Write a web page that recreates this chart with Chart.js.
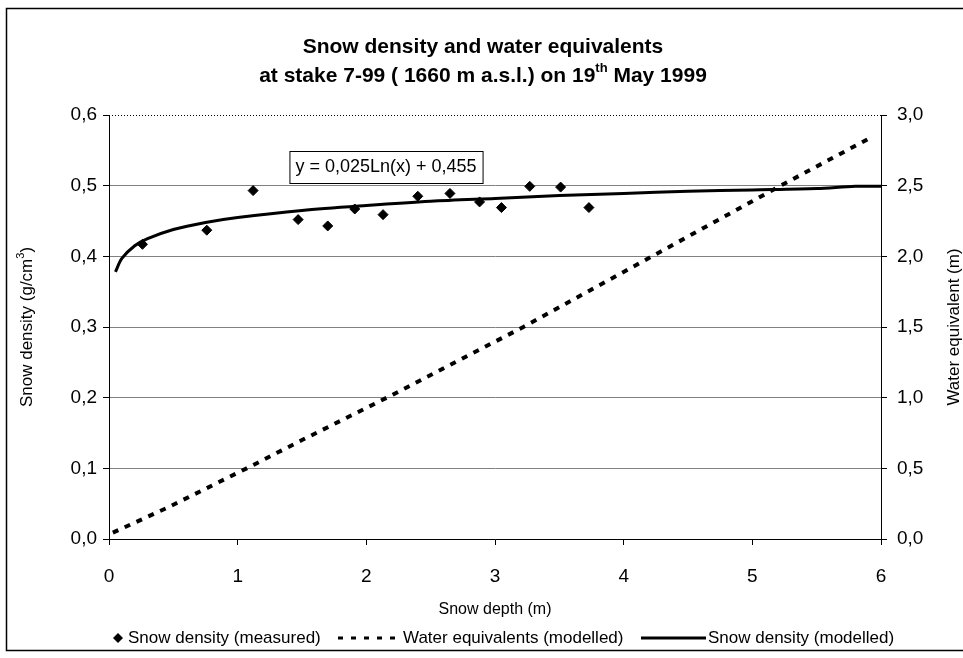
<!DOCTYPE html>
<html>
<head>
<meta charset="utf-8">
<script src="https://cdn.jsdelivr.net/npm/chart.js@4.4.1/dist/chart.umd.min.js"></script>
<style>
  html, body { margin: 0; padding: 0; background: #fff; }
  #wrap { width: 963px; height: 658px; }
</style>
</head>
<body>
<div id="wrap"><canvas id="snowChart" width="963" height="658"></canvas></div>
<script>
// measured snow density (g/cm3) against depth (m)
const depthMeasured = [0.26, 0.76, 1.12, 1.47, 1.70, 1.91, 2.13, 2.40, 2.65, 2.88, 3.05, 3.27, 3.51, 3.73];
const densityMeasured = [0.417, 0.437, 0.493, 0.452, 0.443, 0.467, 0.459, 0.485, 0.489, 0.477, 0.469, 0.499, 0.498, 0.469];
// modelled density curve
const depthModel = [0.05, 0.1, 0.2, 0.3, 0.5, 0.75, 1, 1.5, 2, 2.5, 3, 3.5, 4, 4.5, 5, 5.5, 5.8, 6];
const densityModel = [0.378, 0.397, 0.415, 0.425, 0.438, 0.448, 0.455, 0.465, 0.472, 0.478, 0.482, 0.486, 0.489, 0.492, 0.494, 0.496, 0.499, 0.499];
// modelled water equivalent (m), right axis
const depthWater = [0.03, 0.45, 1.07, 1.5, 2.16, 3.22, 4.22, 5.22, 5.92];
const waterModel = [0.045, 0.22, 0.5, 0.70, 1.0, 1.5, 2.0, 2.5, 2.84];

const titleLine1 = "Snow density and water equivalents";
const titleLine2 = ["at stake 7-99 ( 1660 m a.s.l.) on 19", "th", " May 1999"];
const equationText = "y = 0,025Ln(x) + 0,455";
const xTitle = "Snow depth (m)";
const yTitle = ["Snow density (g/cm", "3", ")"];
const y1Title = "Water equivalent (m)";
const legendLabels = ["Snow density (measured)", "Water equivalents (modelled)", "Snow density (modelled)"];

const FONT = "'Liberation Sans', Arial, sans-serif";
const comma = v => v.toFixed(1).replace('.', ',');

const toPoints = (xs, ys) => xs.map((x, i) => ({ x: x, y: ys[i] }));

// text with a raised small part in the middle, centred on cx
function supText(c, parts, cx, cy, size, sub, bold) {
    const w = bold ? "bold " : "";
    c.font = w + size + "px " + FONT;
    const w1 = c.measureText(parts[0]).width;
    const w3 = c.measureText(parts[2]).width;
    c.font = w + sub + "px " + FONT;
    const w2 = c.measureText(parts[1]).width;
    let x = cx - (w1 + w2 + w3) / 2;
    c.textAlign = 'left';
    c.font = w + size + "px " + FONT;
    c.fillText(parts[0], x, cy);
    c.font = w + sub + "px " + FONT;
    c.fillText(parts[1], x + w1, cy - size * 0.38);
    c.font = w + size + "px " + FONT;
    c.fillText(parts[2], x + w1 + w2, cy);
}

const decor = {
    id: 'decor',
    afterDraw(chart) {
        const c = chart.ctx;
        const a = chart.chartArea;
        c.save();
        // outer frame (right edge runs off the picture)
        c.strokeStyle = '#000';
        c.lineWidth = 1.5;
        c.strokeRect(6.5, 8.5, 970, 642);

        // dotted top edge of plot
        c.lineWidth = 1;
        c.setLineDash([1, 2]);
        c.beginPath();
        c.moveTo(a.left, a.top + 0.5);
        c.lineTo(a.right, a.top + 0.5);
        c.stroke();
        c.setLineDash([]);

        c.fillStyle = '#000';
        c.textBaseline = 'middle';
        // title
        c.font = "bold 21px " + FONT;
        c.textAlign = 'center';
        c.fillText(titleLine1, 483, 47);
        supText(c, titleLine2, 483, 76, 21, 13, true);

        // axis titles
        c.font = "16px " + FONT;
        c.textAlign = 'center';
        c.fillText(xTitle, (a.left + a.right) / 2, 610);
        c.save();
        c.translate(27, (a.top + a.bottom) / 2);
        c.rotate(-Math.PI / 2);
        supText(c, yTitle, 0, 0, 17, 11, false);
        c.restore();
        c.save();
        c.translate(954, (a.top + a.bottom) / 2);
        c.rotate(-Math.PI / 2);
        c.font = "17px " + FONT;
        c.textAlign = 'center';
        c.fillText(y1Title, 0, 0);
        c.restore();

        // equation box
        c.font = "18px " + FONT;
        c.textAlign = 'center';
        const ew = c.measureText(equationText).width;
        const ex = 386, ey = 167;
        c.fillStyle = '#fff';
        c.fillRect(ex - ew / 2 - 6, ey - 16, ew + 12, 32);
        c.strokeStyle = '#000';
        c.lineWidth = 1;
        c.strokeRect(ex - ew / 2 - 6 + 0.5, ey - 16 + 0.5, ew + 12, 32);
        c.fillStyle = '#000';
        c.fillText(equationText, ex, ey);

        // legend
        c.font = "17px " + FONT;
        c.textAlign = 'left';
        const ly = 638;
        c.beginPath();
        c.moveTo(118, ly - 5);
        c.lineTo(123, ly);
        c.lineTo(118, ly + 5);
        c.lineTo(113, ly);
        c.closePath();
        c.fill();
        c.fillText(legendLabels[0], 128, ly);
        c.lineWidth = 3;
        c.setLineDash([5, 8]);
        c.beginPath();
        c.moveTo(338, ly);
        c.lineTo(398, ly);
        c.stroke();
        c.setLineDash([]);
        c.fillText(legendLabels[1], 403, ly);
        c.beginPath();
        c.moveTo(641, ly);
        c.lineTo(706, ly);
        c.stroke();
        c.fillText(legendLabels[2], 708, ly);
        c.restore();
    }
};

const tickFont = { family: FONT, size: 19 };

new Chart(document.getElementById('snowChart'), {
    type: 'scatter',
    data: {
        datasets: [{
            label: legendLabels[0],
            data: toPoints(depthMeasured, densityMeasured),
            yAxisID: 'y',
            showLine: false,
            pointStyle: 'rectRot',
            pointRadius: 5,
            pointBackgroundColor: '#000',
            pointBorderColor: '#000',
            order: 0
        }, {
            label: legendLabels[1],
            data: toPoints(depthWater, waterModel),
            yAxisID: 'y1',
            showLine: true,
            borderColor: '#000',
            borderWidth: 4,
            borderDash: [6, 7],
            borderCapStyle: 'butt',
            pointRadius: 0,
            order: 2
        }, {
            label: legendLabels[2],
            data: toPoints(depthModel, densityModel),
            yAxisID: 'y',
            showLine: true,
            borderColor: '#000',
            borderWidth: 3,
            tension: 0.3,
            pointRadius: 0,
            order: 1
        }]
    },
    options: {
        responsive: false,
        animation: false,
        layout: { padding: { top: 115, left: 0, right: 0, bottom: 0 } },
        plugins: {
            legend: { display: false },
            title: { display: false },
            tooltip: { enabled: false }
        },
        scales: {
            x: {
                type: 'linear',
                min: 0,
                max: 6,
                ticks: { stepSize: 1, font: tickFont, color: '#000', padding: 20 },
                grid: { drawOnChartArea: false, tickLength: 6, tickColor: '#000' },
                border: { color: '#000' },
                afterFit: s => { s.height = 119; }
            },
            y: {
                position: 'left',
                min: 0,
                max: 0.6,
                ticks: { stepSize: 0.1, font: tickFont, color: '#000', padding: 6, callback: v => comma(v) },
                grid: {
                    color: c => (c.tick && c.tick.value > 0.55) ? 'rgba(0,0,0,0)' : '#808080',
                    tickColor: '#000',
                    tickLength: 6
                },
                border: { color: '#000' },
                afterFit: s => { s.width = 109; }
            },
            y1: {
                position: 'right',
                min: 0,
                max: 3,
                ticks: { stepSize: 0.5, font: tickFont, color: '#000', padding: 10, callback: v => comma(v) },
                grid: { drawOnChartArea: false, tickColor: '#000', tickLength: 6 },
                border: { color: '#000' },
                afterFit: s => { s.width = 82; }
            }
        }
    },
    plugins: [decor]
});
</script>
</body>
</html>
